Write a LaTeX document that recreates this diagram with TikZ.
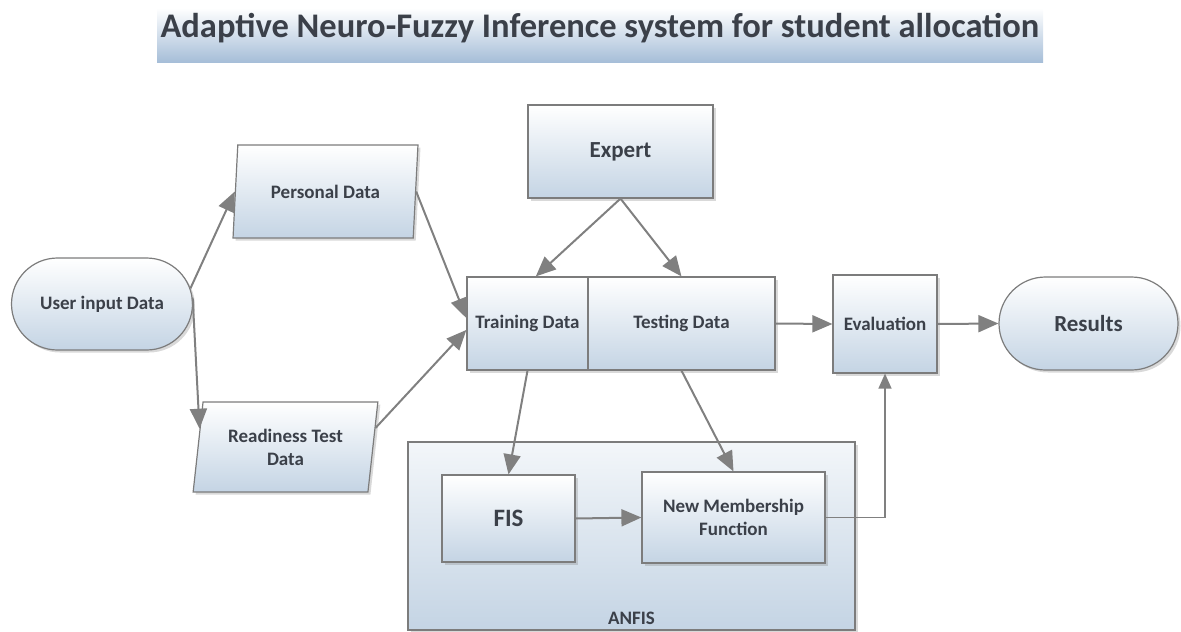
\documentclass[tikz,border=0pt]{standalone}
\usepackage{fontspec}
\setmainfont{Carlito}
\usetikzlibrary{arrows.meta,positioning,shapes.geometric,shapes.misc,shadows}
\definecolor{ctexto}{HTML}{3B4049}
\definecolor{cborde}{HTML}{7C7C7C}
\definecolor{cfondo}{HTML}{C4D4E4}
\definecolor{ctitulo}{HTML}{A6BED8}
\definecolor{cflecha}{HTML}{808080}
\tikzset{
  bloque/.style={draw=cborde,line width=1.2pt,top color=white,bottom color=cfondo,
                 align=center,text=ctexto,inner sep=2pt,
                 font=\bfseries\fontsize{19}{23}\selectfont,
                 drop shadow={shadow xshift=2.5pt,shadow yshift=-2.5pt,opacity=0.3}},
  bloqueg/.style={bloque,font=\bfseries\fontsize{23}{27}\selectfont},
  terminal/.style={bloque,rounded rectangle},
  datos/.style={bloque,trapezium,trapezium left angle=80,trapezium right angle=100,
                trapezium stretches=true},
  grupo/.style={bloque,top color=white!80!cfondo,bottom color=cfondo},
  flecha/.style={draw=cflecha,line width=2pt,-{Triangle[length=20pt,width=17pt]}},
  flechaf/.style={draw=cflecha,line width=1.3pt,-{Triangle[length=15pt,width=13pt]}},
  barra/.style={top color=white,bottom color=ctitulo,inner sep=0pt},
  tit/.style={font=\bfseries\fontsize{34.5}{40}\selectfont,text=ctexto,inner sep=0pt},
  et/.style={font=\bfseries\fontsize{19}{23}\selectfont,text=ctexto,inner sep=1pt},
}

\begin{document}
\begin{tikzpicture}[x=1pt,y=-1pt]
\useasboundingbox (0,0) rectangle (1181,632);

% titulo
\node[barra,minimum width=886,minimum height=54] (barra) at (600,35) {};
\node[tit,anchor=base] (titulo) at (600,37) {Adaptive Neuro-Fuzzy Inference system for student allocation};

% entradas
\node[terminal,minimum width=185,minimum height=92] (usuario) at (102,304) {User input Data};
\node[datos,minimum width=185,minimum height=93] (personal) at (325.5,191.5) {Personal Data};
\node[datos,minimum width=185,minimum height=90] (aptitud) at (285.5,447) {Readiness Test\\Data};

% datos de entrenamiento / prueba
\node[bloqueg,minimum width=185,minimum height=93] (experto) at (620.5,151.5) {Expert};
\node[bloque,minimum width=121,minimum height=93] (entreno) at (527.5,323.5) {Training Data};
\node[bloque,minimum width=187,minimum height=93] (testeo) at (681.5,323.5) {Testing Data};

% ANFIS
\node[grupo,minimum width=447,minimum height=188] (anfis) at (631.5,536) {};
\node[et] (anfisl) at (631.5,618) {ANFIS};
\node[bloque,font=\bfseries\fontsize{25}{29}\selectfont,minimum width=133,minimum height=87] (fis) at (508.5,518.5) {FIS};
\node[bloque,minimum width=183,minimum height=91] (funcion) at (733.5,517.5) {New Membership\\Function};

% salida
\node[bloque,minimum width=104,minimum height=98] (evaluacion) at (885,324) {Evaluation};
\node[terminal,font=\bfseries\fontsize{23}{27}\selectfont,minimum width=183,minimum height=93] (resultados) at (1088.5,323.5) {Results};

\draw[flecha] (usuario.10) -- (personal.west);
\draw[flecha] (usuario.4) -- (aptitud.168);
\draw[flecha] (personal.east) -- (entreno.175);
\draw[flecha] (aptitud.12) -- (entreno.186);
\draw[flecha] (experto.south) -- (entreno.80);
\draw[flecha] (experto.south) -- (testeo.north);
\draw[flecha] (entreno.south) -- (fis.north);
\draw[flecha] (testeo.south) -- (funcion.north);
\draw[flecha] (fis.east) -- (funcion.west);
\draw[flecha] (testeo.east) -- (evaluacion.west);
\draw[flecha] (evaluacion.east) -- (resultados.west);
\draw[flechaf] (funcion.east) -| (evaluacion.south);

\end{tikzpicture}
\end{document}
